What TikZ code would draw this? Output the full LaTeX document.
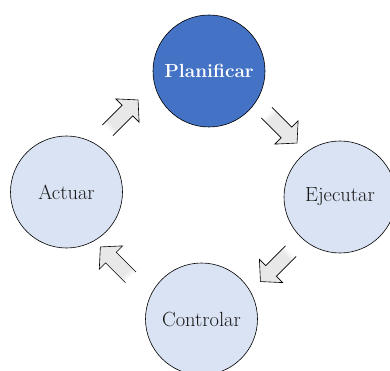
\documentclass[tikz,border=0pt]{standalone}
\usepackage{fontspec}
\setmainfont{Latin Modern Roman}
\usetikzlibrary{shadings}
\pgfdeclarehorizontalshading{arrowshade}{100bp}{color(0bp)=(white); color(27bp)=(white); color(35bp)=(black!9); color(100bp)=(black!9)}
\definecolor{planblue}{RGB}{68,114,196}
\definecolor{lightblue}{RGB}{218,227,243}
\tikzset{
  x=1pt, y=-1pt,
  stage/.style={circle, draw=black, line width=0.6pt, minimum size=112pt, inner sep=0pt, fill=lightblue, text=black!90, font=\fontsize{20.5}{22}\selectfont},
  mainstage/.style={stage, fill=planblue, text=white, font=\fontsize{19}{21}\selectfont\bfseries},
  arrowline/.style={draw=black, line width=0.6pt, line join=miter},
  cycarrow/.pic={
    \shade[shading=arrowshade, shading angle=\arrang]
      (-22,-7.5) -- (7,-7.5) -- (7,-16.5) -- (22,0) -- (7,16.5) -- (7,7.5) -- (-22,7.5) -- cycle;
    \draw[arrowline]
      (-21,-7.5) -- (7,-7.5) -- (7,-16.5) -- (22,0) -- (7,16.5) -- (7,7.5) -- (-21,7.5);
  }
}
\begin{document}
\begin{tikzpicture}
\useasboundingbox (0,0) rectangle (390,371);
\clip (0,0) rectangle (390,371);
\node[mainstage] (plan) at (209,71) {Planificar};
\node[stage] (ejec) at (340,197) {Ejecutar};
\node[stage] (ctrl) at (201.5,319) {Controlar};
\node[stage] (actu) at (66.5,192) {Actuar};
\def\arrang{45}
\pic[rotate=45] (a1) at (122.5,115.5) {cycarrow};
\def\arrang{-45}
\pic[rotate=-45] (a2) at (281.5,127.5) {cycarrow};
\def\arrang{-135}
\pic[rotate=-135] (a3) at (276,266) {cycarrow};
\def\arrang{135}
\pic[rotate=135] (a4) at (115.9,262.5) {cycarrow};
\end{tikzpicture}
\end{document}
